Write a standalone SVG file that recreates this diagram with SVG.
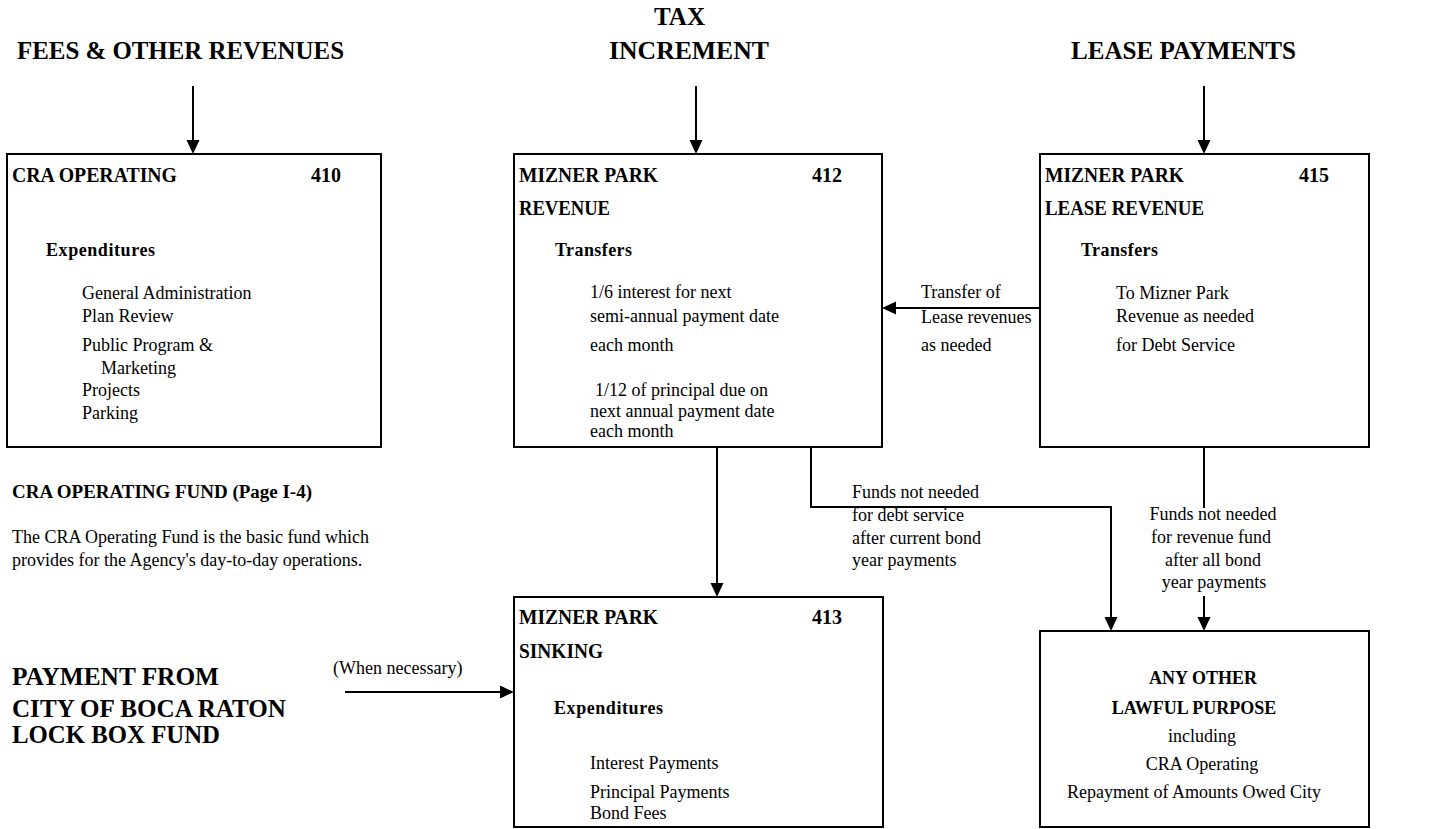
<svg xmlns="http://www.w3.org/2000/svg" width="1432" height="829" viewBox="0 0 1432 829">
<style>
text{font-family:"Liberation Serif","Times New Roman",serif;fill:#000}
.h{font-size:25px;font-weight:bold}
.t{font-size:20px;font-weight:bold}
.s{font-size:18px;font-weight:bold}
.r{font-size:18px}
.box{fill:#fff;stroke:#000;stroke-width:2}
.ln{fill:none;stroke:#000;stroke-width:2}
.mid{text-anchor:middle}
</style>
<defs>
<marker id="arr" markerUnits="userSpaceOnUse" markerWidth="14" markerHeight="14" viewBox="0 0 14 14" refX="6" refY="7" orient="auto">
<path d="M0,0.5 L14,7 L0,13.5 Z" fill="#000"/>
</marker>
</defs>
<rect width="1432" height="829" fill="#fff"/>

<g id="headers">
<text class="h" x="17" y="59" textLength="327" lengthAdjust="spacingAndGlyphs">FEES &amp; OTHER REVENUES</text>
<text class="h" x="654" y="25" textLength="51" lengthAdjust="spacingAndGlyphs">TAX</text>
<text class="h" x="609" y="59" textLength="160" lengthAdjust="spacingAndGlyphs">INCREMENT</text>
<text class="h" x="1071" y="59" textLength="225" lengthAdjust="spacingAndGlyphs">LEASE PAYMENTS</text>
</g>

<g id="node-410">
<rect class="box" x="7" y="154" width="374" height="293"/>
<text class="t" x="12" y="182" textLength="165" lengthAdjust="spacingAndGlyphs">CRA OPERATING</text>
<text class="t" x="311" y="182">410</text>
<text class="s" x="46" y="256" textLength="109" lengthAdjust="spacing">Expenditures</text>
<text class="r" x="82" y="299">General Administration</text>
<text class="r" x="82" y="322">Plan Review</text>
<text class="r" x="82" y="351">Public Program &amp;</text>
<text class="r" x="101" y="374">Marketing</text>
<text class="r" x="82" y="396">Projects</text>
<text class="r" x="82" y="419">Parking</text>
</g>

<g id="node-412">
<rect class="box" x="514" y="154" width="368" height="293"/>
<text class="t" x="519" y="182" textLength="139" lengthAdjust="spacingAndGlyphs">MIZNER PARK</text>
<text class="t" x="812" y="182">412</text>
<text class="t" x="519" y="215" textLength="91" lengthAdjust="spacingAndGlyphs">REVENUE</text>
<text class="s" x="555" y="256" textLength="77" lengthAdjust="spacing">Transfers</text>
<text class="r" x="590" y="298">1/6 interest for next</text>
<text class="r" x="590" y="322">semi-annual payment date</text>
<text class="r" x="590" y="351">each month</text>
<text class="r" x="595" y="396">1/12 of principal due on</text>
<text class="r" x="590" y="417">next annual payment date</text>
<text class="r" x="590" y="437">each month</text>
</g>

<g id="node-415">
<rect class="box" x="1040" y="154" width="329" height="293"/>
<text class="t" x="1045" y="182" textLength="139" lengthAdjust="spacingAndGlyphs">MIZNER PARK</text>
<text class="t" x="1299" y="182">415</text>
<text class="t" x="1045" y="215" textLength="159" lengthAdjust="spacingAndGlyphs">LEASE REVENUE</text>
<text class="s" x="1081" y="256" textLength="77" lengthAdjust="spacing">Transfers</text>
<text class="r" x="1116" y="299">To Mizner Park</text>
<text class="r" x="1116" y="322">Revenue as needed</text>
<text class="r" x="1116" y="351">for Debt Service</text>
</g>

<g id="note-operating">
<text class="s" x="12" y="498" textLength="300" lengthAdjust="spacingAndGlyphs">CRA OPERATING FUND (Page I-4)</text>
<text class="r" x="12" y="543">The CRA Operating Fund is the basic fund which</text>
<text class="r" x="12" y="566">provides for the Agency's day-to-day operations.</text>
</g>

<g id="node-lockbox">
<text class="h" x="12" y="685" textLength="207" lengthAdjust="spacingAndGlyphs">PAYMENT FROM</text>
<text class="h" x="12" y="717" textLength="274" lengthAdjust="spacingAndGlyphs">CITY OF BOCA RATON</text>
<text class="h" x="12" y="743" textLength="208" lengthAdjust="spacingAndGlyphs">LOCK BOX FUND</text>
</g>

<g id="node-413">
<rect class="box" x="514" y="597" width="369" height="230"/>
<text class="t" x="519" y="624" textLength="139" lengthAdjust="spacingAndGlyphs">MIZNER PARK</text>
<text class="t" x="812" y="624">413</text>
<text class="t" x="519" y="658" textLength="84" lengthAdjust="spacingAndGlyphs">SINKING</text>
<text class="s" x="554" y="714" textLength="109" lengthAdjust="spacing">Expenditures</text>
<text class="r" x="590" y="769">Interest Payments</text>
<text class="r" x="590" y="798">Principal Payments</text>
<text class="r" x="590" y="819">Bond Fees</text>
</g>

<g id="node-lawful">
<rect class="box" x="1040" y="631" width="329" height="196"/>
<text class="s mid" x="1203" y="684">ANY OTHER</text>
<text class="s mid" x="1194" y="714">LAWFUL PURPOSE</text>
<text class="r mid" x="1202" y="742">including</text>
<text class="r mid" x="1202" y="770">CRA Operating</text>
<text class="r mid" x="1194" y="798">Repayment of Amounts Owed City</text>
</g>

<g id="connectors">
<line class="ln" x1="193" y1="86" x2="193" y2="146" marker-end="url(#arr)"/>
<line class="ln" x1="696" y1="86" x2="696" y2="146" marker-end="url(#arr)"/>
<line class="ln" x1="1204" y1="86" x2="1204" y2="146" marker-end="url(#arr)"/>
<line class="ln" x1="1040" y1="308" x2="890" y2="308" marker-end="url(#arr)"/>
<line class="ln" x1="717" y1="447" x2="717" y2="589" marker-end="url(#arr)"/>
<line class="ln" x1="345" y1="692" x2="506" y2="692" marker-end="url(#arr)"/>
<path class="ln" d="M811,447 V507 H1111 V623" marker-end="url(#arr)"/>
<line class="ln" x1="1204" y1="447" x2="1204" y2="508"/>
<line class="ln" x1="1204" y1="596" x2="1204" y2="623" marker-end="url(#arr)"/>
<text class="r" x="921" y="298">Transfer of</text>
<text class="r" x="921" y="323">Lease revenues</text>
<text class="r" x="921" y="351">as needed</text>
<text class="r" x="333" y="674">(When necessary)</text>
<text class="r" x="852" y="498">Funds not needed</text>
<text class="r" x="852" y="521">for debt service</text>
<text class="r" x="852" y="544">after current bond</text>
<text class="r" x="852" y="566">year payments</text>
<text class="r mid" x="1213" y="520">Funds not needed</text>
<text class="r mid" x="1211" y="543">for revenue fund</text>
<text class="r mid" x="1213" y="566">after all bond</text>
<text class="r mid" x="1214" y="588">year payments</text>
</g>
</svg>
